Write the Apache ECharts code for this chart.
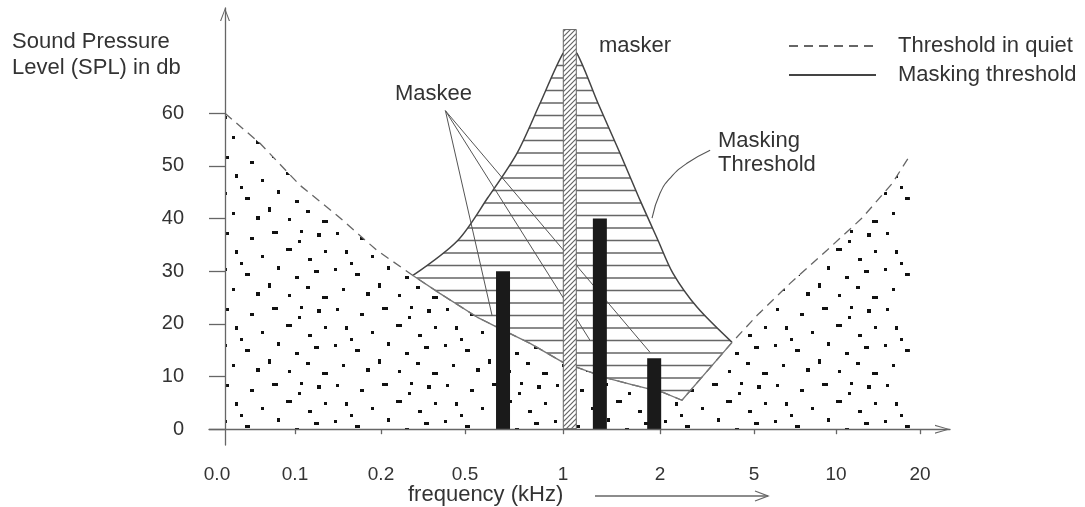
<!DOCTYPE html>
<html><head><meta charset="utf-8">
<script src="https://cdn.jsdelivr.net/npm/echarts@6/dist/echarts.min.js"></script>
<style>html,body{margin:0;padding:0;background:#fff}#c{width:1085px;height:507px}</style>
</head><body><div id="c"></div>
<script>
// ---------- data ----------
const FREQ_TICKS  = [0, 0.1, 0.2, 0.5, 1, 2, 5, 10, 20];            // kHz
const TICK_LABELS = ['0.0', '0.1', '0.2', '0.5', '1', '2', '5', '10', '20'];
const Y_TICKS     = [0, 10, 20, 30, 40, 50, 60];                      // dB

// threshold in quiet
const TIQ_FREQ = [0, 0.05, 0.106, 0.149, 0.195, 0.314, 0.41, 0.561, 0.663, 0.832, 1.0, 1.454, 1.72, 2.096, 2.70, 4.30, 5.18, 7.2, 9.45, 13.1, 16.7, 18.8];
const TIQ_DB   = [60, 54.3, 46.3, 40.6, 34.0, 29.2, 25.8, 21.3, 19.4, 16.3, 12.7, 9.7, 8.4, 7.0, 5.5, 16.5, 21.6, 27.7, 34.0, 40.1, 46.7, 52.0];

// masking threshold
const MASK_FREQ = [0.314, 0.475, 0.617, 0.765, 0.883, 1.0, 1.07, 1.144, 1.361, 1.588, 1.794, 1.979, 2.415, 3.18, 4.30];
const MASK_DB   = [29.2, 35.9, 44.0, 52.4, 61.9, 71.4, 71.8, 71.4, 61.9, 52.4, 43.5, 35.9, 29.6, 23.2, 16.5];

// tones
const MASKEE_FREQ = [0.694, 1.38, 1.94];
const MASKEE_DB   = [30, 40, 13.5];
const MASKER_FREQ = [1.07];
const MASKER_DB   = [76];

// annotation leader lines (kHz, dB)
const MASKEE_PTR_ORIGIN = [0.43, 60.5];
const MASKEE_PTR_FREQ   = [0.638, 1.278, 1.897];
const MASKEE_PTR_DB     = [21.6, 16.9, 14.6];
const MT_PTR_FREQ = [3.60, 2.86, 2.34, 2.0, 1.918];
const MT_PTR_DB   = [53.0, 50.5, 47.8, 44.8, 40.1];

// ---------- frequency scale of the drawn axis ----------
const AXIS_POS  = [0, 7.0, 15.6, 24.0, 33.8, 43.5, 52.9, 61.1, 69.5];
const LABEL_POS = [-0.8].concat(AXIS_POS.slice(1));
function toAxis(f) {
  for (let i = 0; i < FREQ_TICKS.length - 1; i++) {
    if (f <= FREQ_TICKS[i + 1] || i === FREQ_TICKS.length - 2) {
      const t = (f - FREQ_TICKS[i]) / (FREQ_TICKS[i + 1] - FREQ_TICKS[i]);
      return AXIS_POS[i] + t * (AXIS_POS[i + 1] - AXIS_POS[i]);
    }
  }
}
const pairs = (fs, ds) => fs.map((f, i) => [toAxis(f), ds[i]]);

// ---------- patterns ----------
const DOT_TILE = [[6,4,3,3],[30,9,4,3],[52,3,6,3],[78,12,3,3],[97,5,4,4],[15,22,3,4],[41,27,3,3],[66,20,6,3],[88,30,4,3],[104,22,3,3],[4,40,3,3],[25,45,5,3],[57,38,3,4],[75,48,4,3],[94,42,5,3],[12,60,3,3],[36,64,4,4],[48,55,3,5],[68,66,3,3],[86,58,4,3],[102,68,6,3],[20,34,3,3],[80,2,3,3]];
function dotPattern() {
  const c = document.createElement('canvas'); c.width = 110; c.height = 76;
  const g = c.getContext('2d');
  g.fillStyle = '#fff'; g.fillRect(0, 0, 110, 76);
  g.fillStyle = '#111';
  DOT_TILE.forEach(d => g.fillRect(d[0], d[1], d[2], d[3]));
  return c;
}
function hatchPattern() {
  const c = document.createElement('canvas'); c.width = 8; c.height = 125;
  const g = c.getContext('2d');
  g.fillStyle = '#666';
  for (let k = 0; k < 10; k++) g.fillRect(0, 3 + 12.5 * k - 0.75, 8, 1.5);
  return c;
}
function diagPattern() {
  const c = document.createElement('canvas'); c.width = 5; c.height = 5;
  const g = c.getContext('2d');
  g.fillStyle = '#fff'; g.fillRect(0, 0, 5, 5);
  g.strokeStyle = '#666'; g.lineWidth = 1.2;
  g.beginPath();
  g.moveTo(-1, 6); g.lineTo(6, -1);
  g.moveTo(-1, 1); g.lineTo(1, -1);
  g.moveTo(4, 6); g.lineTo(6, 4);
  g.stroke();
  return c;
}

const FONT = "'Liberation Sans', Arial, Helvetica, sans-serif";
const TXT = '#333';
const AX = '#666';
const Y_ARROW = 'path://M50,0L100,130L88,130L50,26L12,130L0,130Z';
const X_ARROW = 'path://M45,0L90,150L78,150L45,30L12,150L0,150Z';

const tiqMid = TIQ_FREQ.map((f, i) => [f, TIQ_DB[i]])
  .filter(p => p[0] >= MASK_FREQ[0] && p[0] <= MASK_FREQ[MASK_FREQ.length - 1]);

const series = [
  {
    name: 'Masking threshold', type: 'line', z: 3, symbol: 'none', smooth: 0.3,
    data: pairs(MASK_FREQ, MASK_DB),
    lineStyle: { color: '#444', width: 1.5 }, itemStyle: { color: '#444' },
    areaStyle: { color: { image: hatchPattern(), repeat: 'repeat' }, opacity: 1 }
  },
  {
    name: 'Threshold in quiet', type: 'line', z: 4, symbol: 'none',
    data: pairs(TIQ_FREQ, TIQ_DB),
    lineStyle: { color: '#666', width: 1.3, type: [9, 6] }, itemStyle: { color: '#666' },
    areaStyle: { color: { image: dotPattern(), repeat: 'repeat' }, opacity: 1 }
  },
  {
    name: 'tiq-under-masking', type: 'line', z: 5, symbol: 'none',
    data: tiqMid.map(p => [toAxis(p[0]), p[1]]),
    lineStyle: { color: '#777', width: 1.3 }
  }
];
MASKEE_PTR_FREQ.forEach((f, i) => series.push({
  type: 'line', z: 5, symbol: 'none',
  data: [[toAxis(MASKEE_PTR_ORIGIN[0]), MASKEE_PTR_ORIGIN[1]], [toAxis(f), MASKEE_PTR_DB[i]]],
  lineStyle: { color: '#555', width: 1 }
}));
series.push({
  type: 'line', z: 5, symbol: 'none', smooth: 0.5,
  data: pairs(MT_PTR_FREQ, MT_PTR_DB),
  lineStyle: { color: '#555', width: 1.1 }
});
const barData = MASKEE_FREQ.map((f, i) => ({ value: [toAxis(f), MASKEE_DB[i]] }))
  .concat(MASKER_FREQ.map((f, i) => ({
    value: [toAxis(f), MASKER_DB[i]],
    itemStyle: { color: { image: diagPattern(), repeat: 'repeat' }, borderColor: '#666', borderWidth: 1 }
  })));
series.push({
  type: 'bar', z: 6, barWidth: 14, data: barData,
  itemStyle: { color: '#1a1a1a' }
});

const chart = echarts.init(document.getElementById('c'), null, { renderer: 'canvas' });
chart.setOption({
  animation: false,
  backgroundColor: '#fff',
  textStyle: { fontFamily: FONT },
  grid: { left: 209, right: 135, top: 8, bottom: 62 },
  legend: {
    data: ['Threshold in quiet', 'Masking threshold'],
    orient: 'vertical', left: 788, top: 34, padding: 0, itemWidth: 87, itemHeight: 14, itemGap: 5,
    selectedMode: false,
    itemStyle: { opacity: 0 },
    textStyle: { fontSize: 22, color: TXT, fontFamily: FONT, lineHeight: 24, padding: [0, 0, 0, 17] }
  },
  xAxis: {
    type: 'value', min: -1.6, max: 72.5, z: 10,
    axisLine: { onZero: true, lineStyle: { color: AX, width: 1.3 }, symbol: ['none', X_ARROW], symbolSize: [9, 15], symbolOffset: [0, -7.5] },
    axisTick: { customValues: AXIS_POS.slice(1), length: 5, lineStyle: { color: AX, width: 1.3 } },
    axisLabel: {
      customValues: LABEL_POS, margin: 20, fontSize: 19, color: TXT, fontFamily: FONT,
      formatter: v => {
        let best = 0;
        LABEL_POS.forEach((p, i) => { if (Math.abs(p - v) < Math.abs(LABEL_POS[best] - v)) best = i; });
        return TICK_LABELS[best];
      }
    },
    splitLine: { show: false }
  },
  yAxis: {
    type: 'value', min: -3, max: 80, z: 10,
    axisLine: { onZero: true, lineStyle: { color: AX, width: 1.3 }, symbol: ['none', Y_ARROW], symbolSize: [10, 13], symbolOffset: [0, -6.5] },
    axisTick: { customValues: Y_TICKS, length: 16, lineStyle: { color: AX, width: 1.3 } },
    axisLabel: { customValues: Y_TICKS, margin: 25, fontSize: 20, color: TXT, fontFamily: FONT },
    splitLine: { show: false }
  },
  graphic: [
    { type: 'text', left: 12, top: 29, style: { text: 'Sound Pressure\nLevel (SPL) in db', font: '22px ' + FONT, fill: TXT, lineHeight: 26 } },
    { type: 'text', left: 408, top: 484, style: { text: 'frequency (kHz)', font: '22px ' + FONT, fill: TXT } },
    { type: 'line', shape: { x1: 595, y1: 496, x2: 768, y2: 496 }, style: { stroke: AX, lineWidth: 1.3 } },
    { type: 'polyline', shape: { points: [[755, 491], [768, 496], [755, 501]] }, style: { stroke: AX, lineWidth: 1.3, fill: null } },
    { type: 'text', left: 599, top: 35, style: { text: 'masker', font: '22px ' + FONT, fill: TXT } },
    { type: 'text', left: 395, top: 83, style: { text: 'Maskee', font: '22px ' + FONT, fill: TXT } },
    { type: 'text', left: 718, top: 129, style: { text: 'Masking\nThreshold', font: '22px ' + FONT, fill: TXT, lineHeight: 24 } }
  ],
  series: series
});
</script></body></html>
